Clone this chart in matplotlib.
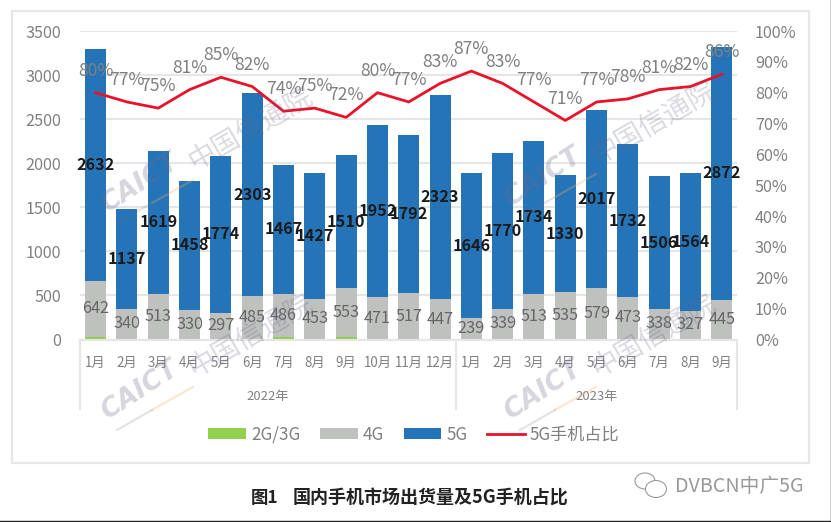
# -*- coding: UTF-8 -*-
import matplotlib
matplotlib.use("Agg")
import matplotlib.pyplot as plt
from matplotlib.patches import Ellipse, Rectangle

plt.rcParams['font.family'] = ['Noto Sans CJK SC', 'DejaVu Sans']

# Datos
meses = ['1月', '2月', '3月', '4月', '5月', '6月', '7月', '8月', '9月', '10月', '11月', '12月',
         '1月', '2月', '3月', '4月', '5月', '6月', '7月', '8月', '9月']
g23 = [26, 8, 8, 8, 8, 8, 30, 8, 30, 8, 8, 8, 4, 8, 8, 1, 8, 8, 8, 2, 6]
g4 = [642, 340, 513, 330, 297, 485, 486, 453, 553, 471, 517, 447, 239, 339, 513, 535, 579, 473, 338, 327, 445]
g5 = [2632, 1137, 1619, 1458, 1774, 2303, 1467, 1427, 1510, 1952, 1792, 2323, 1646, 1770, 1734, 1330, 2017, 1732, 1506, 1564, 2872]
ratio5g = [80, 77, 75, 81, 85, 82, 74, 75, 72, 80, 77, 83, 87, 83, 77, 71, 77, 78, 81, 82, 86]
years = ['2022年', '2023年']

# Colores
azul, gris, verde, rojo = '#2574b8', '#bfc1bf', '#92d050', '#e8132a'
txt, grid = '#808080', '#e6e6e6'

W, H = 831, 522
fig = plt.figure(figsize=(W / 100, H / 100), dpi=100)
ax = fig.add_axes([80 / W, 1 - 339.5 / H, 657.5 / W, 308.5 / H])
ax2 = ax.twinx()
x = list(range(len(meses)))

# Barras apiladas
base4 = g23
base5 = [a + b for a, b in zip(g23, g4)]
b1 = ax.bar(x, g23, 0.67, color=verde, label='2G/3G', zorder=2)
b2 = ax.bar(x, g4, 0.67, bottom=base4, color=gris, label='4G', zorder=2)
b3 = ax.bar(x, g5, 0.67, bottom=base5, color=azul, label='5G', zorder=2)
ax.bar_label(b2, label_type='center', fontsize=11.7, color='#666666')
ax.bar_label(b3, label_type='center', fontsize=11.7, color='#1a1a1a', fontweight='bold')

ax.set_xlim(-0.5, len(meses) - 0.5)
ax.set_ylim(0, 3500)
ax.set_yticks(range(0, 3501, 500))
ax.set_xticks(x, meses)
ax.tick_params(axis='x', length=0, pad=12, labelsize=9.6, labelcolor=txt)
ax.tick_params(axis='y', length=0, pad=13.5, labelsize=11.7, labelcolor=txt)
ax.grid(axis='y', color=grid, lw=1.5, zorder=0)
ax.set_axisbelow(True)
for s in ['top', 'left', 'right']:
    ax.spines[s].set_visible(False)
ax.spines['bottom'].set_color(grid)
ax.spines['bottom'].set_linewidth(1.5)
ax.spines['bottom'].set_zorder(3)

# Eje x de dos niveles
for sep in [-0.5, 11.5, len(meses) - 0.5]:
    ax.plot([sep, sep], [0, -0.224], color=grid, lw=1.5, clip_on=False,
            transform=ax.get_xaxis_transform())
for name, pos in zip(years, [5.5, 16]):
    ax.annotate(name, (pos, 0), xycoords=('data', 'axes fraction'), xytext=(0, -40.7),
                textcoords='offset points', ha='center', va='center', fontsize=9.4, color=txt)

# Linea de porcentaje
l1, = ax2.plot(x, ratio5g, color=rojo, lw=2, label='5G手机占比', solid_joinstyle='round')
ax2.set_ylim(0, 100)
ax2.set_yticks(range(0, 101, 10), [str(v) + '%' for v in range(0, 101, 10)])
ax2.tick_params(axis='y', length=0, pad=12.5, labelsize=11.7, labelcolor=txt)
for s in ax2.spines.values():
    s.set_visible(False)
for xi, v in zip(x, ratio5g):
    ax2.annotate(str(v) + '%', (xi, v), xytext=(0, 15.8), textcoords='offset points',
                 ha='center', va='center', fontsize=12.6, color=txt)

# Leyenda
fig.legend(handles=[b1, b2, b3, l1], loc='center', bbox_to_anchor=(414 / W, 1 - 434.5 / H),
           ncol=4, frameon=False, fontsize=12.3, labelcolor=txt, handlelength=2.2,
           handleheight=0.6, handletextpad=0.3, columnspacing=1.15)

# Capa en pixeles: marco, marcas de agua y pie
capa = fig.add_axes([0, 0, 1, 1], zorder=5)
capa.set_xlim(0, W)
capa.set_ylim(H, 0)
capa.axis('off')
capa.patch.set_alpha(0)
capa.add_patch(Rectangle((12, 11), 797, 452, fill=False, ec='#e8e8e8', lw=1.6))
capa.plot([0, W, W], [521.3, 521.3, 0], color='#222222', lw=1)

for dx, dy in [(0, 0), (0, 207), (403, -6), (403, 207)]:
    capa.text(107 + dx, 213 + dy, 'CAICT', rotation=33, rotation_mode='anchor', ha='left', va='baseline',
              fontsize=19, fontweight='bold', style='italic', family='DejaVu Sans', color='#6b6b8c', alpha=0.28)
    capa.text(190 + dx, 163 + dy, '中国信通院', rotation=30, rotation_mode='anchor', ha='left', va='center',
              fontsize=20, color='#6b6b8c', alpha=0.25)
    capa.plot([117 + dx, 152 + dx], [223 + dy, 203 + dy], color='#6b6b8c', alpha=0.2, lw=1.5)
    capa.plot([152 + dx, 193 + dx], [203 + dy, 180 + dy], color='#f0b060', alpha=0.3, lw=1.5)

capa.text(251, 498, '图1', fontsize=12.5, fontweight='bold', color='#222222', ha='left', va='center')
capa.text(430, 498, '国内手机市场出货量及5G手机占比', fontsize=13, fontweight='bold', color='#222222',
          ha='center', va='center')
capa.text(675, 487, 'DVBCN中广5G', fontsize=14.2, color='#9a9a9a', ha='left', va='center')
capa.add_patch(Ellipse((645, 481), 20, 16, fc='white', ec='#9a9a9a', lw=0.8))
capa.add_patch(Ellipse((656, 489), 21, 17, fc='white', ec='#9a9a9a', lw=0.8))

fig.savefig('out.png', dpi=100)
